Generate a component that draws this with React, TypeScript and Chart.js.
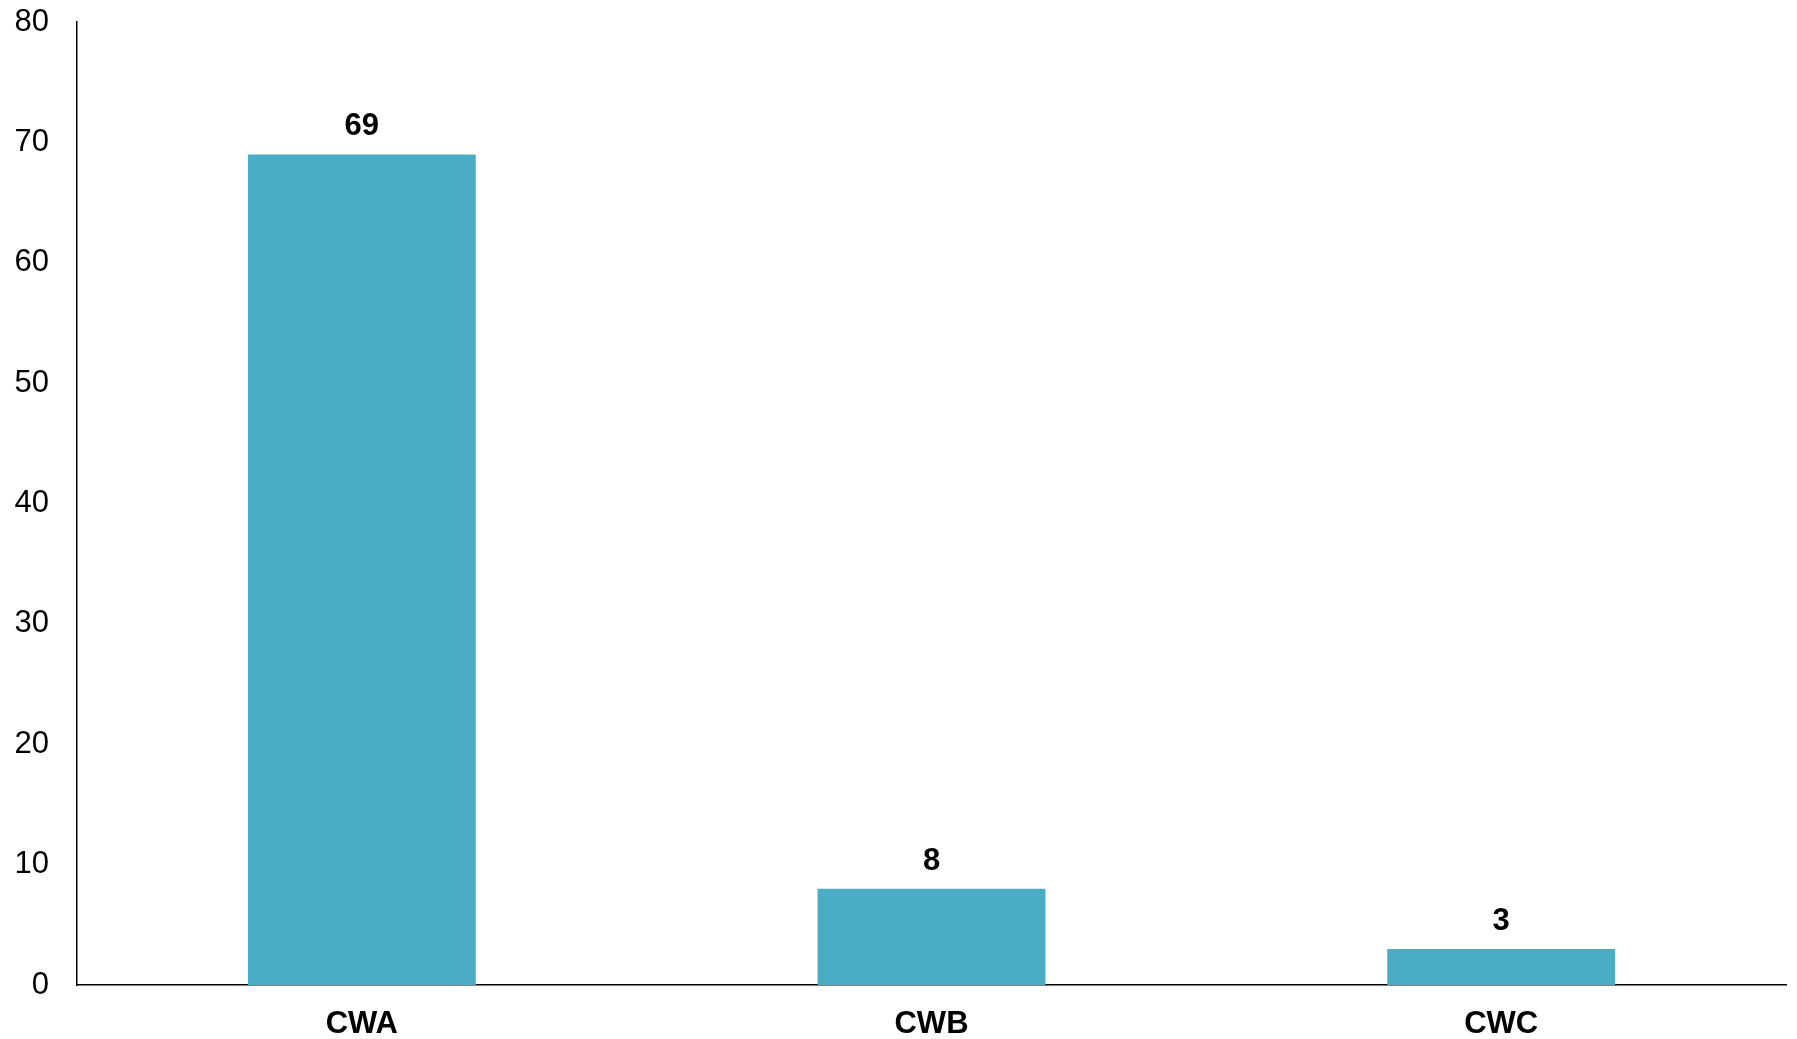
import React, { useEffect, useRef } from "react";
import { Chart, registerables } from "chart.js";

Chart.register(...registerables);

const categories = ["CWA", "CWB", "CWC"];
const counts = [69, 8, 3];
const yTicks = [0, 10, 20, 30, 40, 50, 60, 70, 80];

const FONT = "'Liberation Sans', Arial, sans-serif";
const SIZE = 31;

const valueLabels = {
  id: "valueLabels",
  afterDatasetsDraw(chart: any) {
    const ctx = chart.ctx;
    const meta = chart.getDatasetMeta(0);
    ctx.save();
    ctx.font = `bold ${SIZE}px ${FONT}`;
    ctx.fillStyle = "#000";
    ctx.textAlign = "center";
    ctx.textBaseline = "alphabetic";
    meta.data.forEach((bar: any, i: number) => {
      ctx.fillText(String(counts[i]), bar.x, bar.y - 19);
    });
    ctx.restore();
  },
};

export default function App() {
  const ref = useRef<HTMLCanvasElement | null>(null);
  useEffect(() => {
    if (!ref.current) return;
    const chart = new Chart(ref.current, {
      type: "bar",
      data: {
        labels: categories,
        datasets: [
          {
            data: counts,
            backgroundColor: "#4BACC6",
            borderWidth: 0,
            barPercentage: 0.4,
            categoryPercentage: 1,
          },
        ],
      },
      options: {
        animation: false,
        responsive: true,
        maintainAspectRatio: false,
        layout: { padding: { top: 22, right: 11, bottom: 0, left: 0 } },
        plugins: { legend: { display: false }, tooltip: { enabled: false } },
        scales: {
          x: {
            grid: { display: false, drawTicks: false },
            border: { display: true, color: "#000", width: 1.5 },
            ticks: {
              color: "#000",
              padding: 21,
              font: { family: FONT, size: SIZE, weight: "bold" },
            },
            afterFit: (s: any) => {
              s.height = 54;
              s.paddingLeft = 0;
              s.paddingRight = 0;
            },
          },
          y: {
            min: 0,
            max: 80,
            afterBuildTicks: (s: any) => {
              s.ticks = yTicks.map((v) => ({ value: v }));
            },
            grid: { display: false, drawTicks: false },
            border: { display: true, color: "#000", width: 1.5 },
            ticks: {
              color: "#000",
              padding: 28,
              font: { family: FONT, size: SIZE },
            },
            afterFit: (s: any) => {
              s.width = 77;
              s.paddingTop = 0;
              s.paddingBottom = 0;
            },
          },
        },
      },
      plugins: [valueLabels],
    });
    return () => chart.destroy();
  }, []);
  return (
    <div style={{ position: "fixed", left: 0, top: 0, width: 1797, height: 1039, background: "#fff" }}>
      <canvas ref={ref} />
    </div>
  );
}
